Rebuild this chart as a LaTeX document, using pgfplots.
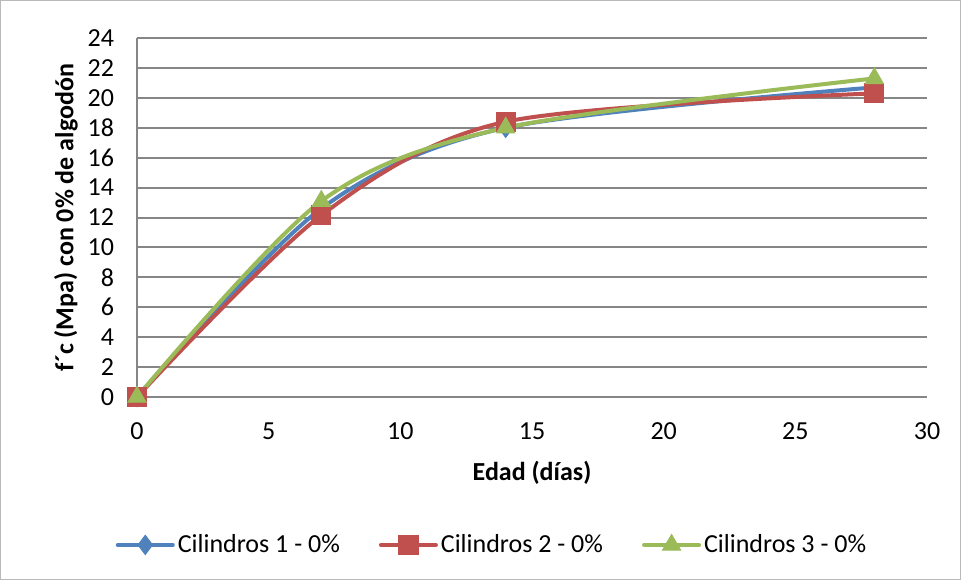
\documentclass[border=0pt]{standalone}
\usepackage{fontspec}
\setmainfont{Carlito}
\usepackage{pgfplots}
\pgfplotsset{compat=1.18}
\definecolor{sblue}{HTML}{4F81BD}
\definecolor{sred}{HTML}{C0504D}
\definecolor{sgreen}{HTML}{9BBB59}
\definecolor{gridgray}{HTML}{868686}
\begin{document}
\begin{tikzpicture}[font=\fontsize{13}{15.6}\selectfont]
\useasboundingbox (0,0) rectangle (480.5pt,290pt);
\draw[gray!55, line width=0.5pt] (0.25pt,0.25pt) rectangle (480.25pt,289.75pt);
\begin{axis}[
  at={(68.5pt,91.5pt)}, anchor=south west,
  scale only axis, width=395pt, height=179.5pt,
  xmin=0, xmax=30, ymin=0, ymax=24,
  xtick={0,5,...,30}, ytick={0,2,...,24},
  ymajorgrids, grid style={color=gridgray, line width=1pt},
  axis x line*=bottom, axis y line*=left,
  axis line style={color=gridgray, line width=1pt},
  major tick length=0pt,
  clip=false,
  /pgf/number format/assume math mode=true,
  yticklabel style={xshift=-8pt},
  xticklabel style={yshift=-9.5pt},
  xlabel={\textbf{Edad (días)}},
  ylabel={\textbf{f´c (Mpa) con 0\% de algodón}},
  xlabel style={at={(axis description cs:0.5,-0.212)}, anchor=center},
  ylabel style={at={(axis description cs:-0.09,0.5)}, anchor=center},
  legend columns=3,
  legend style={draw=none, at={(0.45,-0.412)}, anchor=center,
    /tikz/every even column/.append style={column sep=18pt},
    nodes={inner sep=1.5pt}},
  legend image code/.code={\draw[#1, mark repeat=2, mark phase=2] plot coordinates {(0pt,0pt)(13.75pt,0pt)(27.5pt,0pt)};},
  every axis plot/.append style={line width=2pt, line cap=round, smooth},
]
\addplot[color=sblue, mark=diamond*, mark size=4.8pt, mark options={solid, line width=0.5pt}] coordinates {(0,0) (7,12.6) (14,18.0) (28,20.7)};
\addlegendentry{Cilindros 1 - 0\%}
\addplot[color=sred, mark=square*, mark size=4.8pt, mark options={solid, line width=0.5pt}] coordinates {(0,0) (7,12.15) (14,18.4) (28,20.3)};
\addlegendentry{Cilindros 2 - 0\%}
\addplot[color=sgreen, mark=triangle*, mark size=5.2pt, mark options={solid, line width=0.5pt}] coordinates {(0,0) (7,13.1) (14,18.0) (28,21.3)};
\addlegendentry{Cilindros 3 - 0\%}
\end{axis}
\end{tikzpicture}
\end{document}
